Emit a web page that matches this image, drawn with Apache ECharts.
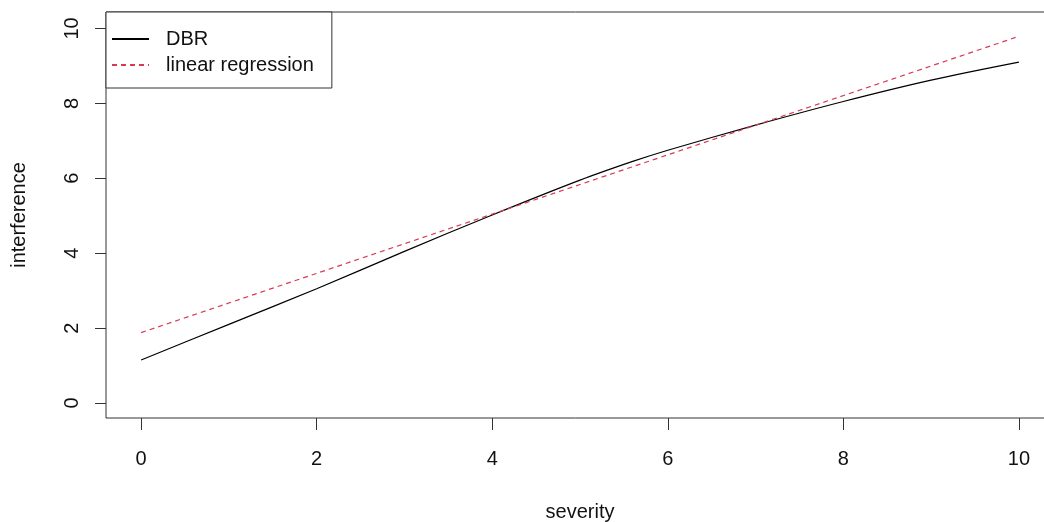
<!DOCTYPE html>
<html>
<head>
<meta charset="utf-8">
<script src="https://cdn.jsdelivr.net/npm/echarts@6/dist/echarts.min.js"></script>
<style>
html,body{margin:0;padding:0;background:#fff;}
#c{width:1044px;height:522px;}
</style>
</head>
<body>
<div id="c"></div>
<script>
var xTicks = [0, 2, 4, 6, 8, 10];
var yTicks = [0, 2, 4, 6, 8, 10];
var dbrX = [0, 1, 2, 3, 4, 5, 5.6, 6, 7, 8, 9, 10];
var dbrY = [1.15, 2.10, 3.05, 4.05, 5.02, 5.95, 6.45, 6.75, 7.42, 8.05, 8.62, 9.10];
var lrX = [0, 10];
var lrY = [1.88, 9.79];

function pairs(xs, ys) { return xs.map(function (x, i) { return [x, ys[i]]; }); }

var font = 'Liberation Sans, Arial, sans-serif';
var chart = echarts.init(document.getElementById('c'), null, {renderer: 'canvas'});
chart.setOption({
  animation: false,
  backgroundColor: '#fff',
  grid: {left: 106, top: 12, width: 948, height: 406, outerBoundsMode: 'none', containLabel: false,
         show: true, borderColor: '#333', borderWidth: 1, backgroundColor: 'transparent'},
  legend: {
    left: 106, top: 12, orient: 'vertical',
    padding: [17, 18, 13, 5], itemGap: 6, itemWidth: 37, itemHeight: 14,
    borderColor: '#333', borderWidth: 1, backgroundColor: '#fff', borderRadius: 0,
    itemStyle: {opacity: 0},
    textStyle: {fontFamily: font, fontSize: 20, color: '#111', padding: [0, 0, 0, 12]},
    data: ['DBR', 'linear regression']
  },
  xAxis: {
    type: 'value', min: -0.4, max: 10.4,
    axisLine: {show: false, onZero: false},
    splitLine: {show: false},
    axisTick: {show: true, length: 12, inside: false, customValues: xTicks, lineStyle: {color: '#333'}},
    axisLabel: {customValues: xTicks, fontFamily: font, fontSize: 20, color: '#111', margin: 31},
    name: 'severity', nameLocation: 'middle', nameGap: 84,
    nameTextStyle: {fontFamily: font, fontSize: 20, color: '#111'}
  },
  yAxis: {
    type: 'value', min: -0.4, max: 10.44,
    axisLine: {show: false, onZero: false},
    splitLine: {show: false},
    axisTick: {show: true, length: 11, inside: false, customValues: yTicks, lineStyle: {color: '#333'}},
    axisLabel: {customValues: yTicks, fontFamily: font, fontSize: 20, color: '#111', margin: 24, rotate: 90},
    name: 'interference', nameLocation: 'middle', nameGap: 77,
    nameTextStyle: {fontFamily: font, fontSize: 20, color: '#111'}
  },
  series: [
    {name: 'DBR', type: 'line', data: pairs(dbrX, dbrY), smooth: 0.3, symbol: 'none', showSymbol: false,
     lineStyle: {color: '#000', width: 1.2}, itemStyle: {color: '#000'}},
    {name: 'linear regression', type: 'line', data: pairs(lrX, lrY), symbol: 'none', showSymbol: false,
     lineStyle: {color: '#D63A55', width: 1.2, type: [5, 4]}, itemStyle: {color: '#D63A55'}}
  ]
});
</script>
</body>
</html>
